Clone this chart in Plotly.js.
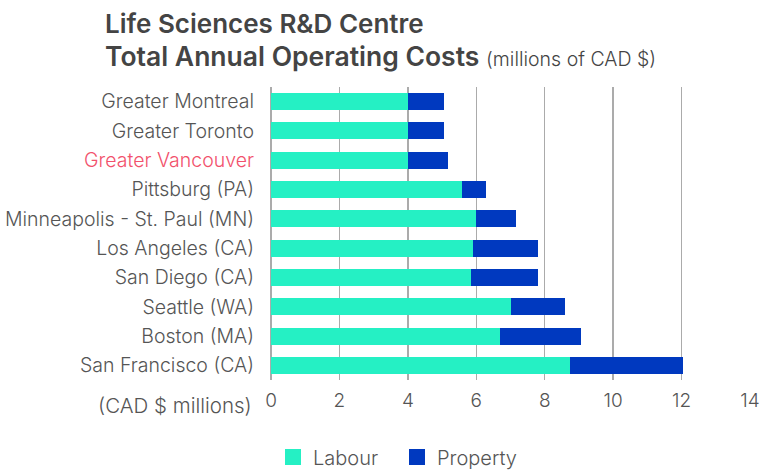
<!DOCTYPE html>
<html>
<head>
<meta charset="utf-8">
<script src="https://cdn.plot.ly/plotly-3.0.1.min.js"></script>
<style>html,body{margin:0;padding:0;background:#fff;}#chart{width:761px;height:471px;}</style>
</head>
<body>
<div id="chart"></div>
<script>
const cities = ["Greater Montreal","Greater Toronto","Greater Vancouver","Pittsburg (PA)","Minneapolis - St. Paul (MN)","Los Angeles (CA)","San Diego (CA)","Seattle (WA)","Boston (MA)","San Francisco (CA)"];
const labour = [4.0, 4.0, 4.0, 5.58, 6.0, 5.91, 5.85, 7.02, 6.70, 8.74];
const property = [1.06, 1.06, 1.18, 0.71, 1.16, 1.90, 1.96, 1.58, 2.36, 3.31];
const seriesNames = ["Labour", "Property"];
const seriesColors = ["#25f0c4", "#0039bf"];
const highlight = "Greater Vancouver";
const xTicks = [0, 2, 4, 6, 8, 10, 12, 14];
const titleLine1 = "Life Sciences R&D Centre";
const titleLine2 = "Total Annual Operating Costs";
const titleUnit = "(millions of CAD $)";
const axisUnit = "(CAD $ millions)";

const fontFam = "Inter, 'Open Sans', sans-serif";
const tickText = cities.map(c => c === highlight ? '<span style="color:#f2516c">' + c + '</span>' : c);
const values = [labour, property];

const traces = [];
values.forEach((v, i) => {
  traces.push({type:'bar', orientation:'h', name:seriesNames[i], legendgroup:seriesNames[i],
    y:cities, x:v, marker:{color:seriesColors[i]}, showlegend:false});
});
// legend-only entries with larger square swatches
seriesNames.forEach((n, i) => {
  traces.push({type:'scatter', mode:'markers', name:n, legendgroup:n, x:[null], y:[null],
    marker:{symbol:'square', size:17, color:seriesColors[i]}, showlegend:true, hoverinfo:'skip'});
});

const layout = {
  width:761, height:471,
  barmode:'stack', bargap:0.42,
  paper_bgcolor:'#fff', plot_bgcolor:'#fff',
  margin:{l:271, r:11, t:87, b:91},
  font:{family:fontFam, color:'#555', size:19},
  xaxis:{
    range:[0,14], tickvals:xTicks, ticktext:xTicks.map(String),
    showgrid:true, gridcolor:'#ababab', gridwidth:1.5,
    zeroline:true, zerolinecolor:'#ababab', zerolinewidth:1.5,
    showline:false, ticks:'', ticklabelstandoff:7,
    tickfont:{size:19, color:'#555', weight:300}
  },
  yaxis:{
    autorange:'reversed', type:'category', categoryarray:cities,
    tickvals:cities, ticktext:tickText,
    showgrid:false, zeroline:false, showline:false, ticks:'',
    ticklabelstandoff:16,
    tickfont:{size:19.5, color:'#555', weight:300}
  },
  showlegend:true,
  legend:{
    orientation:'h', traceorder:'normal', itemsizing:'trace',
    entrywidth:79, entrywidthmode:'pixels',
    xref:'container', yref:'container',
    x:273/761, xanchor:'left', y:1-457/471, yanchor:'middle',
    font:{size:20, color:'#555', weight:300}
  },
  annotations:[
    {text:axisUnit, xref:'paper', yref:'paper',
     x:0, xshift:-17, xanchor:'right', y:-25/293, yanchor:'middle',
     showarrow:false, font:{size:20.5, color:'#555', weight:300}},
    {text:titleLine1, xref:'paper', yref:'paper',
     x:-168/479, xanchor:'left', y:(380-23)/293, yanchor:'middle',
     showarrow:false, font:{size:26, color:'#444', weight:600}},
    {text:titleLine2 + ' <span style="font-size:19.5px;font-weight:300">' + titleUnit + '</span>', xref:'paper', yref:'paper',
     x:-168/479, xanchor:'left', y:(380-56)/293, yanchor:'middle',
     showarrow:false, font:{size:26.5, color:'#444', weight:600}}
  ]
};

Plotly.newPlot('chart', traces, layout, {displayModeBar:false, staticPlot:true});
</script>
</body>
</html>
